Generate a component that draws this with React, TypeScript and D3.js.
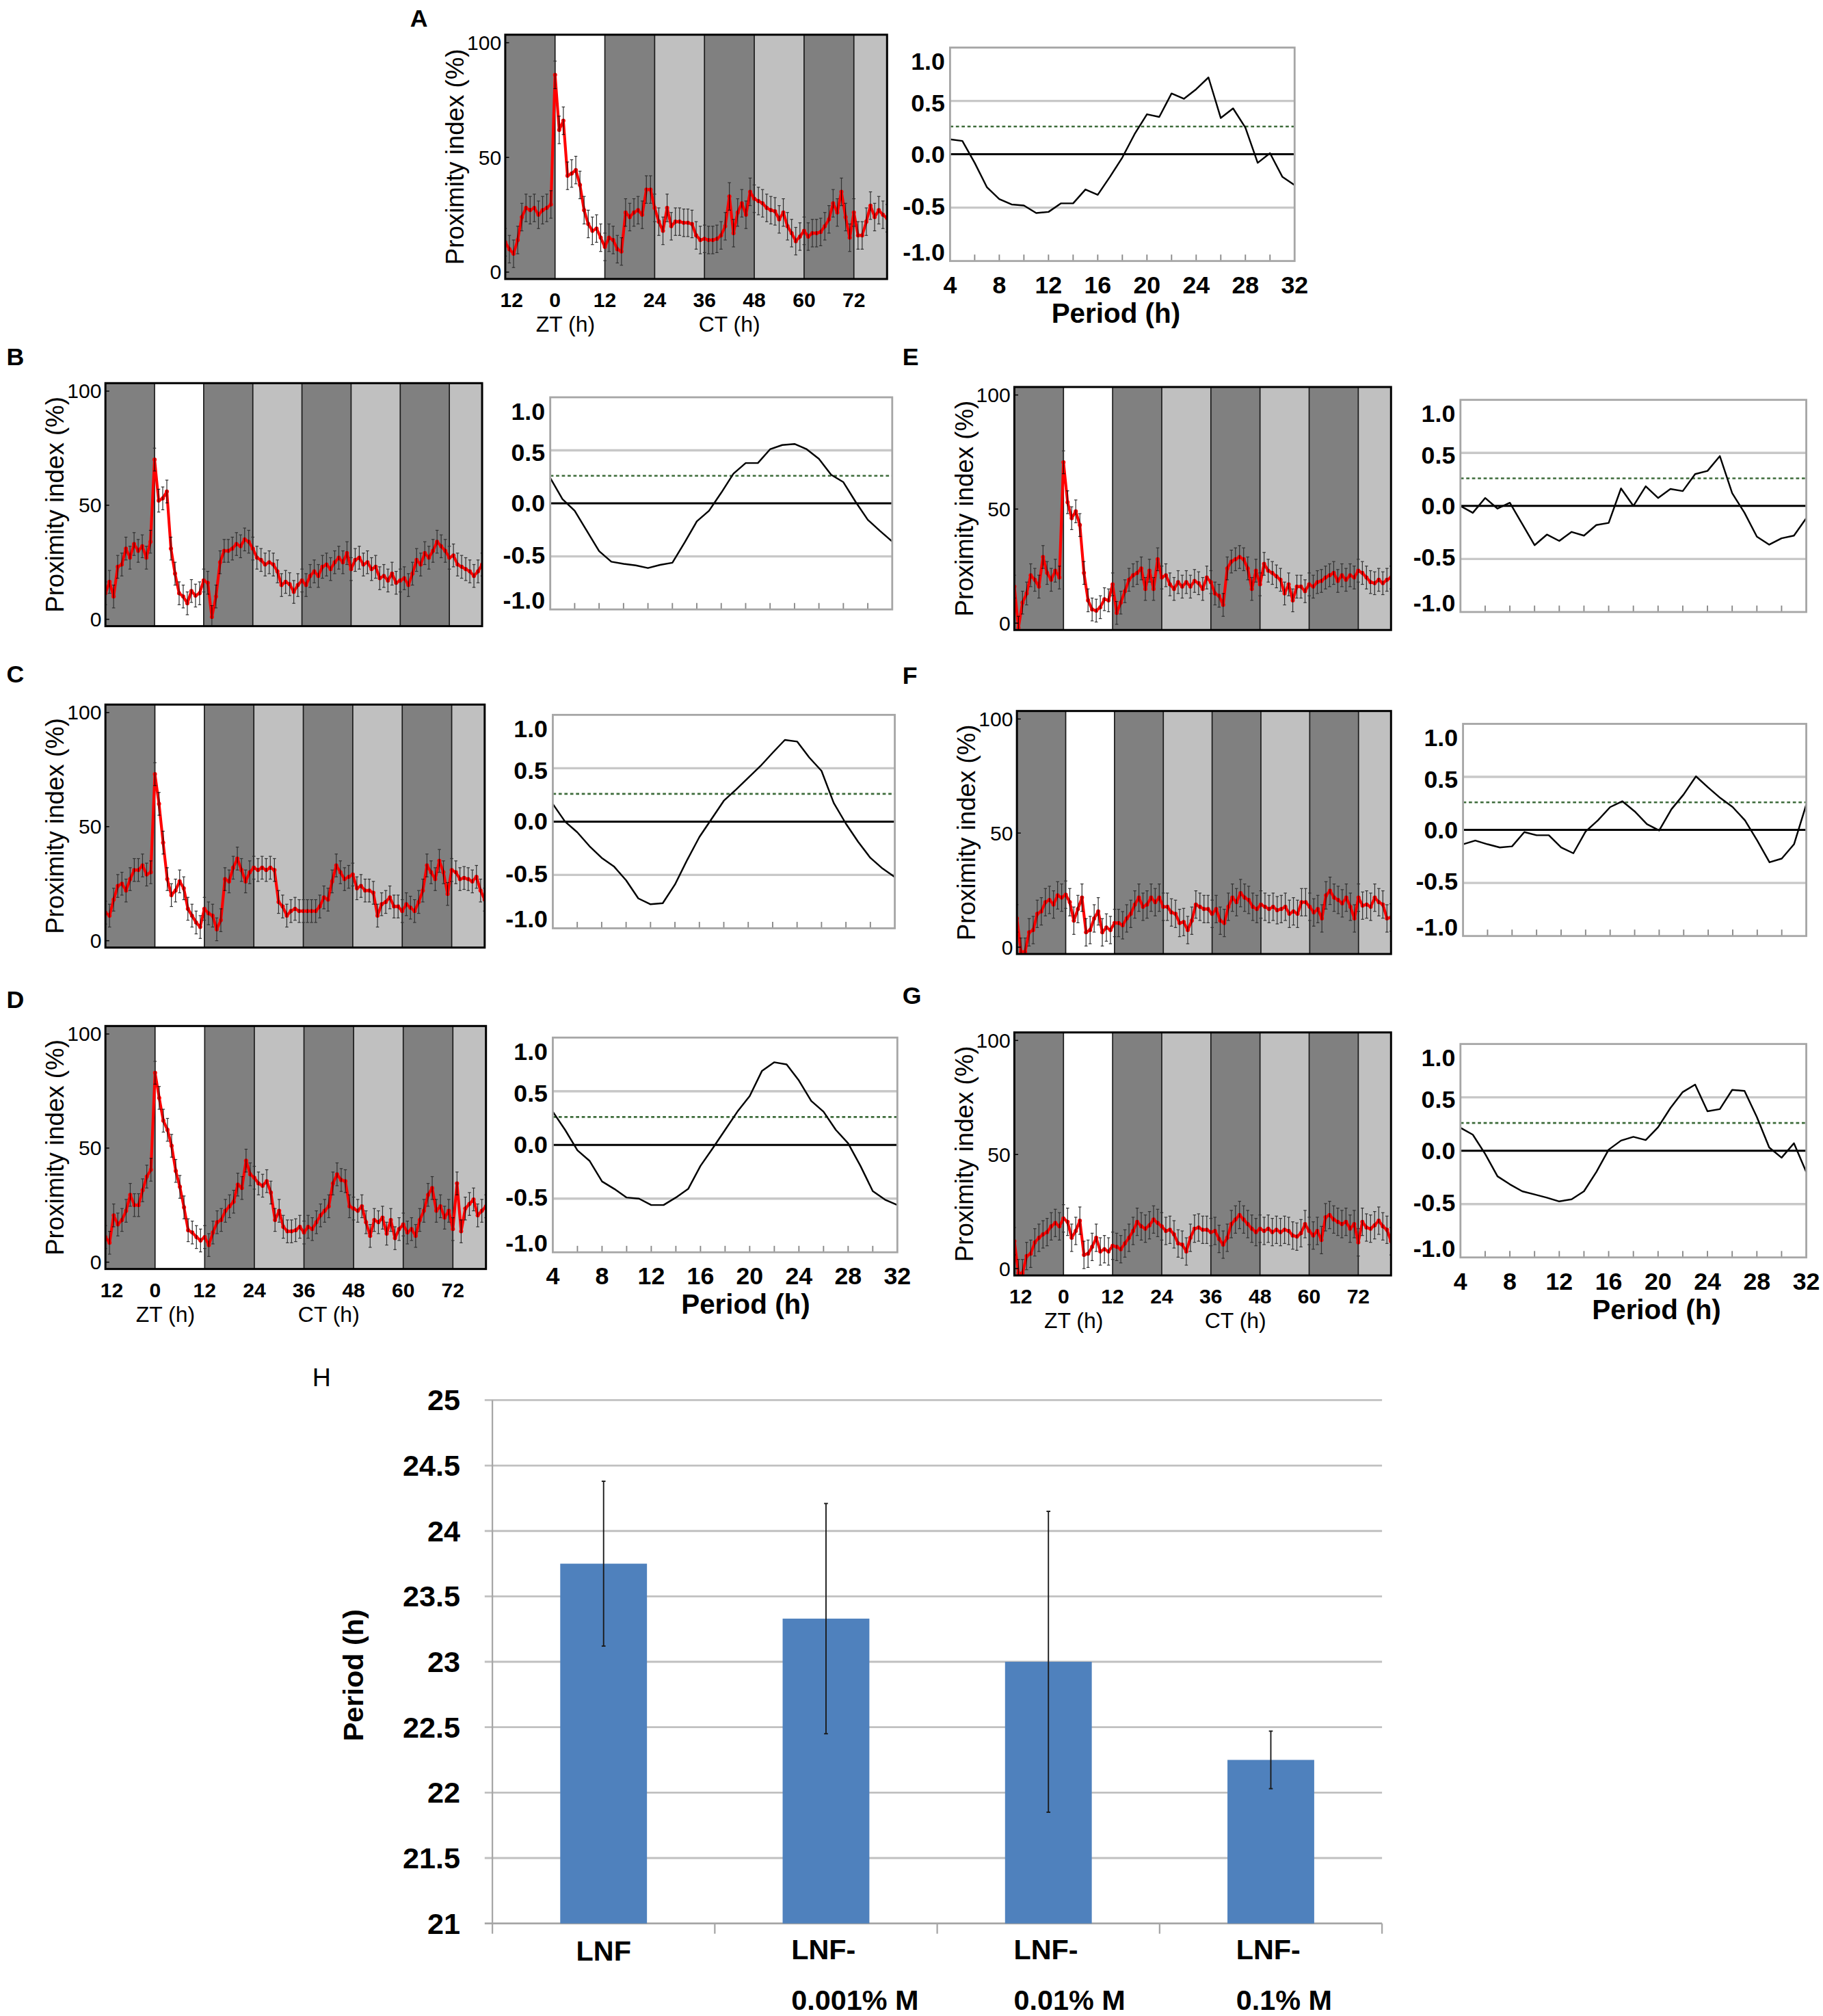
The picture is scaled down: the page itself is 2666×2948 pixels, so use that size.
import React from "react";
import * as d3 from "d3";

// sampling grids: actogram hours (ZT -12 .. CT 80), periodogram periods (h)
const hours = d3.range(-12, 81);
const periods = d3.range(4, 33);

// proximity index (%), one value per hour
const actoA = [
  13, 10, 8, 14, 24, 28, 27, 28, 25, 27, 28, 29.5, 86,
  62, 66, 42, 43, 44.5, 38, 27, 21, 18, 19, 15, 11,
  15, 14, 10, 9, 26, 24, 26, 27, 25, 36, 36, 28,
  22, 18, 28, 20, 22, 22, 21.5, 21.5, 21, 16, 14, 14.5,
  14, 14, 14.5, 16, 20, 33, 17, 26, 30, 25, 35, 32,
  31, 30, 28, 27, 26.5, 23, 26, 20, 17, 13.5, 15.5, 18,
  15.5, 17, 17, 17.5, 20, 23, 30, 26, 35, 24, 15, 26,
  16, 16, 22, 29, 24, 27, 25, 23.5,
];
const actoB = [
  11.4, 16.4, 10, 23, 24, 31, 27, 33, 30, 32, 27, 34, 70,
  52, 53, 56, 31, 20, 11.4, 10, 7, 12.4, 10.4, 11.4, 17,
  16, 1, 10, 25, 30, 30, 31, 33, 32, 35, 34, 31,
  27, 26, 24, 25, 24, 21, 15, 16.4, 15.4, 12, 15, 17,
  15, 19, 21, 19, 23, 24, 22, 25, 27, 25, 29, 22,
  26, 27, 24, 25, 22, 23, 18, 19, 17, 20, 16, 17,
  18, 15, 20, 26, 24, 29, 27, 30, 34, 32, 30, 27,
  28, 24, 23, 22, 21, 19, 21, 24,
];
const actoC = [
  12.3, 11, 18, 24, 25, 22, 27, 31, 31, 33, 29, 30, 73,
  60, 43, 27, 20, 22, 26, 23, 14, 11, 8, 6, 14,
  12, 11, 5, 9, 27, 26, 32, 36, 31, 26, 30, 32,
  31, 32, 31, 32, 31, 17, 15, 11, 13, 14, 13, 13,
  13, 13, 13, 15, 19, 18, 26, 33, 30, 27, 28, 29,
  23, 24, 22, 22, 21, 11, 16, 17, 19, 15, 15, 13,
  16, 14.5, 13, 17, 22, 33, 30, 27, 35, 30, 20.5, 31,
  30, 27, 27.5, 27, 26, 28, 22, 18,
];
const actoD = [
  11, 8.5, 20.5, 16.5, 18.5, 22.5, 29.5, 25, 25, 31.5, 37.5, 40.5, 83,
  72, 62, 58, 51, 40, 33, 24, 14, 13, 11, 9.5, 11,
  7.5, 13, 17.5, 18.5, 22.5, 24.5, 26.5, 34, 32.5, 44.5, 38.5, 37,
  34.5, 33.5, 35.5, 30.5, 18.5, 22.5, 15.5, 13.5, 13.5, 14, 15.5, 13,
  15.5, 14.5, 17.5, 20.5, 22.5, 24.5, 34.5, 38.5, 36, 35.5, 24.5, 23.5,
  22.5, 24.5, 17.5, 11.5, 18.5, 17.5, 19.5, 12.5, 18.5, 10.5, 14.5, 16.5,
  13, 14.5, 11.5, 18.5, 22.5, 29.5, 32.5, 22.5, 24.5, 19.5, 22.5, 14.5,
  34.5, 13.5, 23.5, 25.5, 27.5, 20.5, 22.5, 24.5,
];
const actoE = [
  16, -2, 9, 13, 21, 19, 16, 29, 22, 19, 23, 20, 70.5,
  53, 46, 49, 43, 22, 10, 6, 5.5, 7, 10.5, 10, 17,
  4.5, 9, 14, 19, 21, 22, 24, 15, 23, 15, 28, 20,
  21, 17, 15, 18, 16, 18, 16, 18.5, 17.5, 15, 20, 18,
  13, 12, 8, 24, 27, 28, 29, 28, 24, 15, 23, 17,
  26, 23, 22, 20.5, 19, 13, 17, 10, 16, 16, 14, 17,
  16, 18, 18.5, 20, 21, 22, 18.5, 21, 19, 21, 20, 23,
  22, 20, 18, 17.5, 19, 17.5, 19, 20,
];
const actoF = [
  12.6, -2, -2, 6.5, 7.5, 14.6, 15.7, 19.7, 20.7, 18.7, 22.7, 21.7, 23,
  19.7, 11.6, 16.7, 21.7, 6.5, 7.5, 12.6, 15.7, 6.5, 8.6, 7.5, 10.6,
  10.6, 9.6, 12.6, 14.6, 18.7, 21.7, 17.7, 18.7, 21.7, 19.7, 21.7, 17.7,
  17.7, 15.2, 14.6, 10.6, 11, 7.5, 11.6, 18.7, 17.7, 16.7, 16.7, 14.6,
  16.7, 11.6, 10.6, 17.7, 21.7, 19.7, 23.7, 21.7, 20.7, 17.7, 16.7, 18.7,
  17.7, 16.7, 17.7, 16.2, 16.7, 17.7, 14.6, 15.7, 14.6, 19.7, 19.7, 17.7,
  15.2, 16.7, 12.6, 22.7, 24.7, 21.7, 20.7, 19.2, 21.7, 17.7, 12.6, 21.7,
  18.2, 18.7, 17.7, 21.7, 19.7, 18.7, 12.6, 13,
];
const actoG = [
  12, -2, -2, 5.5, 6.5, 11.5, 13.5, 15, 16, 18.5, 20, 18.5, 22,
  20.5, 13.5, 16.5, 21, 6, 6.5, 9.5, 13.5, 7.5, 8.5, 7.5, 10,
  9.5, 8.5, 11, 13.5, 16.5, 20.5, 18.5, 17.5, 19, 21.5, 20, 18.5,
  16.5, 17, 15, 11, 10.5, 7.5, 13.5, 17.5, 18, 17, 17, 16,
  16.5, 13, 10.5, 13.5, 19.5, 21.5, 23.5, 21.5, 19.5, 17.5, 16, 17.5,
  16.5, 17.5, 16, 17, 16, 17, 16.5, 14.5, 14, 15.5, 19.5, 16.5,
  14.5, 16.5, 12.5, 22.5, 23.5, 21.5, 20.5, 19.5, 20.5, 17.5, 19.5, 11.5,
  20.5, 18, 17.5, 19, 21, 18.5, 17, 12,
];
// typical SEM of each actogram (A..G)
const actoSem = [6, 5, 5, 5, 5, 6, 6];

// periodogram values, periods 4..32 h
const periA = [0.14, 0.125, -0.08, -0.31, -0.42, -0.47, -0.48, -0.55, -0.54, -0.46, -0.46, -0.33, -0.38, -0.21, -0.03, 0.19, 0.375, 0.35, 0.57, 0.52, 0.61, 0.72, 0.34, 0.43, 0.25, -0.08, 0.01, -0.21, -0.29];
const periB = [0.24, 0.04, -0.07, -0.26, -0.45, -0.55, -0.57, -0.585, -0.61, -0.58, -0.56, -0.37, -0.17, -0.07, 0.1, 0.28, 0.38, 0.38, 0.51, 0.55, 0.56, 0.51, 0.42, 0.27, 0.2, 0.015, -0.155, -0.26, -0.36];
const periC = [0.165, 0.0, -0.1, -0.23, -0.34, -0.42, -0.55, -0.72, -0.775, -0.765, -0.59, -0.36, -0.145, 0.025, 0.195, 0.3, 0.41, 0.52, 0.645, 0.765, 0.75, 0.6, 0.475, 0.175, -0.02, -0.19, -0.34, -0.44, -0.52];
const periD = [0.31, 0.14, -0.05, -0.15, -0.34, -0.41, -0.49, -0.5, -0.56, -0.56, -0.49, -0.41, -0.195, -0.03, 0.14, 0.31, 0.455, 0.69, 0.77, 0.75, 0.6, 0.41, 0.31, 0.14, 0.015, -0.195, -0.43, -0.51, -0.56];
const periE = [0.0, -0.065, 0.075, -0.025, 0.03, -0.17, -0.37, -0.27, -0.33, -0.245, -0.28, -0.18, -0.16, 0.165, 0.0, 0.185, 0.075, 0.16, 0.14, 0.3, 0.33, 0.47, 0.12, -0.065, -0.29, -0.365, -0.305, -0.28, -0.115];
const periF = [-0.135, -0.1, -0.135, -0.165, -0.155, -0.02, -0.05, -0.05, -0.165, -0.22, -0.015, 0.09, 0.215, 0.27, 0.175, 0.055, -0.005, 0.195, 0.335, 0.505, 0.4, 0.3, 0.215, 0.09, -0.1, -0.305, -0.27, -0.135, 0.24];
const periG = [0.215, 0.15, -0.03, -0.24, -0.315, -0.38, -0.41, -0.44, -0.475, -0.455, -0.38, -0.2, 0.01, 0.095, 0.13, 0.1, 0.22, 0.4, 0.55, 0.62, 0.37, 0.39, 0.57, 0.56, 0.315, 0.03, -0.065, 0.07, -0.2];
const sigLevel = 0.26;

// light schedule and ticks
const bandEdges = [-12, 0, 12, 24, 36, 48, 60, 72, 80];
const bandShade = ["dark", "white", "dark", "light", "dark", "light", "dark", "light"];
const actoXTicks = [-12, 0, 12, 24, 36, 48, 60, 72];
const actoYTicks = [0, 50, 100];
const periXTicks = [4, 8, 12, 16, 20, 24, 28, 32];
const periYTicks = [1, 0.5, 0, -0.5, -1];
const periMinorTicks = d3.range(6, 31, 2);

// panel H
const hLine1 = ["LNF", "LNF-", "LNF-", "LNF-"];
const hLine2 = ["", "0.001% M", "0.01% M", "0.1% M"];
const hMeans = [23.75, 23.33, 23.0, 22.25];
const hErr = [0.63, 0.88, 1.15, 0.22];
const hTicks = [21, 21.5, 22, 22.5, 23, 23.5, 24, 24.5, 25];

const FONT = "'Liberation Sans', Arial, Helvetica, sans-serif";
const shadeColor: Record<string, string> = { dark: "#808080", light: "#c0c0c0", white: "#ffffff" };
// vertical nudges of the periodogram y labels (they are not centred on their ticks)
const periLabelDy = [11, 2, 0, -1, -7];
const fmtPeri = (v: number) => d3.format(".1f")(v).replace("\u2212", "-");

type Frame = [number, number, number, number];

function Actogram({ frame, values, sem, showX }: { frame: Frame; values: number[]; sem: number; showX: boolean }) {
  const [x0, x1, y0, y1] = frame;
  const x = d3.scaleLinear().domain([-12, 80]).range([x0, x1]);
  const y = d3.scaleLinear().domain([-3, 103.5]).range([y1, y0]);
  const pts = hours.map((h, i) => [h, values[i]] as [number, number]);
  const line = d3.line<[number, number]>().x((d) => x(d[0])).y((d) => y(d[1]));
  const clipId = `acto-${x0}-${y0}`;
  return (
    <g>
      <defs>
        <clipPath id={clipId}>
          <rect x={x0} y={y0} width={x1 - x0} height={y1 - y0} />
        </clipPath>
      </defs>
      {bandShade.map((s, i) => (
        <rect key={i} x={x(bandEdges[i])} y={y0} width={x(bandEdges[i + 1]) - x(bandEdges[i])} height={y1 - y0} fill={shadeColor[s]} />
      ))}
      {bandEdges.slice(1, -1).map((b) => (
        <line key={b} x1={x(b)} x2={x(b)} y1={y0} y2={y1} stroke="#1a1a1a" strokeWidth={0.9} />
      ))}
      <g clipPath={`url(#${clipId})`}>
        {pts.map(([h, v]) => (
          <g key={h} stroke="#333" strokeWidth={0.65}>
            <line x1={x(h)} x2={x(h)} y1={y(v - sem)} y2={y(v + sem)} />
            <line x1={x(h) - 1.2} x2={x(h) + 1.2} y1={y(v - sem)} y2={y(v - sem)} />
            <line x1={x(h) - 1.2} x2={x(h) + 1.2} y1={y(v + sem)} y2={y(v + sem)} />
          </g>
        ))}
        <g style={{ mixBlendMode: "multiply" }}>
          <path d={line(pts) ?? ""} fill="none" stroke="#ff0000" strokeWidth={2.2} strokeLinejoin="round" />
          {pts.map(([h, v]) => (
            <circle key={h} cx={x(h)} cy={y(v)} r={1.6} fill="#ff0000" />
          ))}
        </g>
      </g>
      <rect x={x0} y={y0} width={x1 - x0} height={y1 - y0} fill="none" stroke="#000" strokeWidth={1.6} />
      {actoYTicks.map((t) => (
        <g key={t}>
          <line x1={x0} x2={x0 + 3} y1={y(t)} y2={y(t)} stroke="#000" strokeWidth={0.8} />
          <text x={x0 - 3} y={y(t)} textAnchor="end" dominantBaseline="central" fontSize={16}>{t}</text>
        </g>
      ))}
      <text transform={`translate(${x0 - 39},${(y0 + y1) / 2}) rotate(-90)`} textAnchor="middle" dominantBaseline="central" fontSize={19.5}>
        Proximity index (%)
      </text>
      {showX && (
        <g>
          {actoXTicks.map((t, i) => (
            <text key={t} x={x(t) + (i === 0 ? 5 : 0)} y={y1 + 22} textAnchor="middle" fontSize={16} fontWeight="bold">{Math.abs(t)}</text>
          ))}
          <text x={x(2.5)} y={y1 + 41} textAnchor="middle" fontSize={17}>ZT (h)</text>
          <text x={x(42)} y={y1 + 41} textAnchor="middle" fontSize={17}>CT (h)</text>
        </g>
      )}
    </g>
  );
}

function Periodogram({ frame, values, showX, titleDx }: { frame: Frame; values: number[]; showX: boolean; titleDx: number }) {
  const [x0, x1, y0, y1] = frame;
  const x = d3.scaleLinear().domain([4, 32]).range([x0, x1]);
  const y = d3.scaleLinear().domain([-1, 1]).range([y1, y0]);
  const pts = periods.map((p, i) => [p, values[i]] as [number, number]);
  const line = d3.line<[number, number]>().x((d) => x(d[0])).y((d) => y(d[1]));
  return (
    <g>
      <rect x={x0} y={y0} width={x1 - x0} height={y1 - y0} fill="#fff" />
      {[0.5, -0.5].map((g) => (
        <line key={g} x1={x0} x2={x1} y1={y(g)} y2={y(g)} stroke="#c8c8c8" strokeWidth={1.8} />
      ))}
      <line x1={x0} x2={x1} y1={y(sigLevel)} y2={y(sigLevel)} stroke="#3d6b3a" strokeWidth={1.4} strokeDasharray="2.5,2" />
      <line x1={x0} x2={x1} y1={y(0)} y2={y(0)} stroke="#000" strokeWidth={1.6} />
      <path d={line(pts) ?? ""} fill="none" stroke="#000" strokeWidth={1.3} strokeLinejoin="round" />
      {periMinorTicks.map((t) => (
        <line key={t} x1={x(t)} x2={x(t)} y1={y1} y2={y1 - 5} stroke="#888" strokeWidth={1} />
      ))}
      <rect x={x0} y={y0} width={x1 - x0} height={y1 - y0} fill="none" stroke="#a6a6a6" strokeWidth={1.5} />
      {periYTicks.map((t, i) => (
        <text key={t} x={x0 - 4} y={y(t) + periLabelDy[i]} textAnchor="end" dominantBaseline="central" fontSize={19} fontWeight="bold">
          {fmtPeri(t)}
        </text>
      ))}
      {showX && (
        <g fontWeight="bold">
          {periXTicks.map((t) => (
            <text key={t} x={x(t)} y={y1 + 25} textAnchor="middle" fontSize={19}>{t}</text>
          ))}
          <text x={(x0 + x1) / 2 + titleDx} y={y1 + 48} textAnchor="middle" fontSize={21.5}>Period (h)</text>
        </g>
      )}
    </g>
  );
}

function PanelH() {
  const x = d3.scaleBand<number>().domain(d3.range(hMeans.length)).range([383, 1075]).padding(0);
  const y = d3.scaleLinear().domain([21, 25]).range([1496, 1089]);
  const barW = x.bandwidth() * 0.39;
  return (
    <g>
      {hTicks.map((t) => (
        <g key={t}>
          <line x1={377} x2={1075} y1={y(t)} y2={y(t)} stroke={t === 21 ? "#a6a6a6" : "#c0c0c0"} strokeWidth={1.5} />
          <text x={358} y={y(t)} textAnchor="end" dominantBaseline="central" fontSize={23} fontWeight="bold">{t}</text>
        </g>
      ))}
      <line x1={383} x2={383} y1={y(25)} y2={y(21)} stroke="#a6a6a6" strokeWidth={1.2} />
      {d3.range(hMeans.length + 1).map((i) => {
        const bx = i < hMeans.length ? (x(i) as number) : 1075;
        return <line key={i} x1={bx} x2={bx} y1={y(21)} y2={y(21) + 8} stroke="#a6a6a6" strokeWidth={1.2} />;
      })}
      {hMeans.map((m, i) => {
        const cx = (x(i) as number) + x.bandwidth() / 2;
        return (
          <g key={i}>
            <rect x={cx - barW / 2} y={y(m)} width={barW} height={y(21) - y(m)} fill="#4f81bd" />
            <line x1={cx} x2={cx} y1={y(m - hErr[i])} y2={y(m + hErr[i])} stroke="#1a1a1a" strokeWidth={1} />
            <line x1={cx - 1.5} x2={cx + 1.5} y1={y(m - hErr[i])} y2={y(m - hErr[i])} stroke="#1a1a1a" strokeWidth={1} />
            <line x1={cx - 1.5} x2={cx + 1.5} y1={y(m + hErr[i])} y2={y(m + hErr[i])} stroke="#1a1a1a" strokeWidth={1} />
            {hLine2[i] === "" ? (
              <text x={cx} y={1525} textAnchor="middle" fontSize={22} fontWeight="bold">{hLine1[i]}</text>
            ) : (
              <g fontSize={22} fontWeight="bold">
                <text x={cx - 27} y={1524}>{hLine1[i]}</text>
                <text x={cx - 27} y={1563}>{hLine2[i]}</text>
              </g>
            )}
          </g>
        );
      })}
      <text transform="translate(275,1303) rotate(-90)" textAnchor="middle" dominantBaseline="central" fontSize={22} fontWeight="bold">
        Period (h)
      </text>
      <text x={243} y={1078} fontSize={20}>H</text>
    </g>
  );
}

const panels = [
  { key: "A", acto: [393, 690, 27, 217] as Frame, peri: [739, 1007, 37, 203] as Frame, letter: [319, 21], values: actoA, periVals: periA, showX: true, titleDx: -5 },
  { key: "B", acto: [82, 375, 298, 487] as Frame, peri: [428, 694, 309, 474] as Frame, letter: [5, 284], values: actoB, periVals: periB, showX: false, titleDx: 0 },
  { key: "C", acto: [82, 377, 548, 737] as Frame, peri: [430, 696, 556, 722] as Frame, letter: [5, 531], values: actoC, periVals: periC, showX: false, titleDx: 0 },
  { key: "D", acto: [82, 378, 798, 987] as Frame, peri: [430, 698, 807, 974] as Frame, letter: [5, 784], values: actoD, periVals: periD, showX: true, titleDx: 16 },
  { key: "E", acto: [789, 1082, 301, 490] as Frame, peri: [1136, 1405, 311, 476] as Frame, letter: [702, 284], values: actoE, periVals: periE, showX: false, titleDx: 0 },
  { key: "F", acto: [791, 1082, 553, 742] as Frame, peri: [1138, 1405, 563, 728] as Frame, letter: [702, 532], values: actoF, periVals: periF, showX: false, titleDx: 0 },
  { key: "G", acto: [789, 1082, 803, 992] as Frame, peri: [1136, 1405, 812, 978] as Frame, letter: [702, 781], values: actoG, periVals: periG, showX: true, titleDx: 18 },
];

export default function App() {
  return (
    <div style={{ position: "absolute", left: 0, top: 0, background: "#fff" }}>
      <svg width={2666} height={2948} viewBox="0 0 1418 1568" fontFamily={FONT} style={{ display: "block" }}>
        <rect x={0} y={0} width={1418} height={1568} fill="#fff" />
        {panels.map((p, i) => (
          <g key={p.key}>
            <Actogram frame={p.acto} values={p.values} sem={actoSem[i]} showX={p.showX} />
            <Periodogram frame={p.peri} values={p.periVals} showX={p.showX} titleDx={p.titleDx} />
            <text x={p.letter[0]} y={p.letter[1]} fontSize={19} fontWeight="bold">{p.key}</text>
          </g>
        ))}
        <PanelH />
      </svg>
    </div>
  );
}
